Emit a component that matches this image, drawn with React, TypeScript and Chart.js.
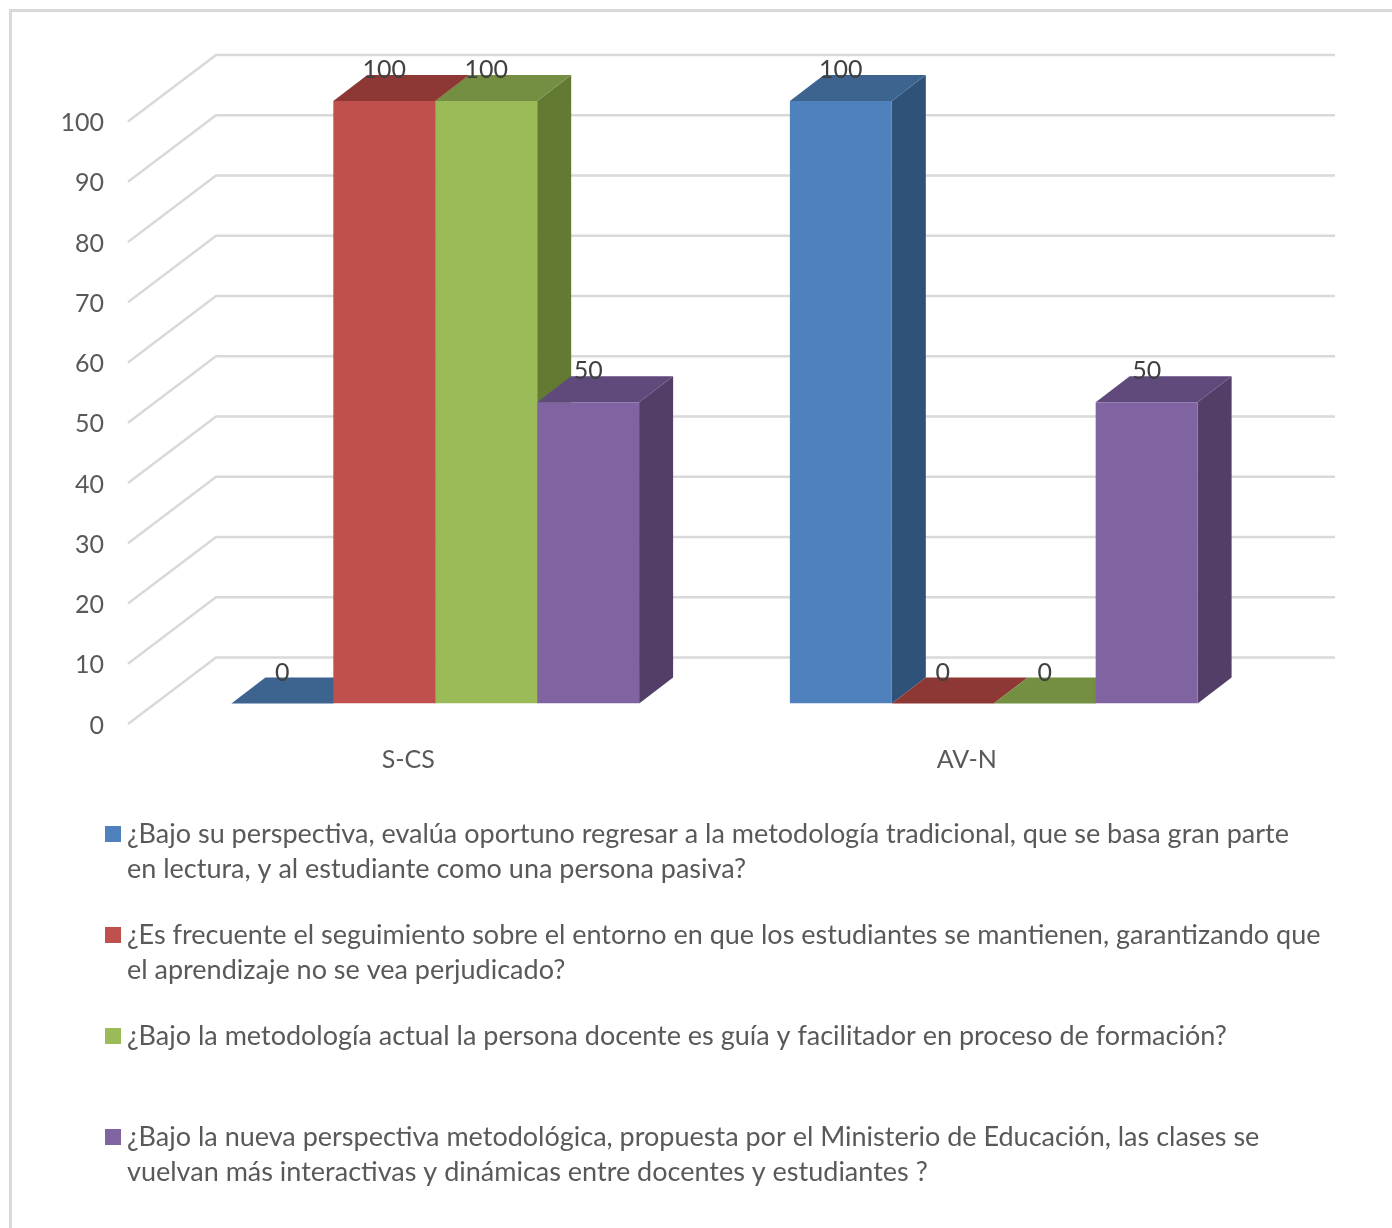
import React, { useEffect, useRef } from "react";
import { Chart, registerables } from "chart.js";

Chart.register(...registerables);

const categories = ["S-CS", "AV-N"];
const question1 = [0, 100];
const question2 = [100, 0];
const question3 = [100, 0];
const question4 = [50, 50];
const legendQ1 = [
  "¿Bajo su perspectiva, evalúa oportuno regresar a la metodología tradicional, que se basa gran parte",
  "en lectura, y al estudiante como una persona pasiva?",
];
const legendQ2 = [
  "¿Es frecuente el seguimiento sobre el entorno en que los estudiantes se mantienen, garantizando que",
  "el aprendizaje no se vea perjudicado?",
];
const legendQ3 = [
  "¿Bajo la metodología actual la persona docente es guía y facilitador en proceso de formación?",
  "",
];
const legendQ4 = [
  "¿Bajo la nueva perspectiva metodológica, propuesta por el Ministerio de Educación, las clases se",
  "vuelvan más interactivas y dinámicas entre docentes y estudiantes ?",
];
const frontColors = ["#4f81bd", "#c0504d", "#9bbb59", "#8064a2"];
const topColors = ["#3d638f", "#8e3835", "#758f42", "#604a7b"];
const sideColors = ["#2f5279", "#7a2f2c", "#637a33", "#523e66"];

const FONT = "Lato, 'Open Sans', sans-serif";
const TEXT = "#595959";
const DEPTH_X = 34;
const DEPTH_Y = 26;

function poly(ctx: CanvasRenderingContext2D, pts: number[][], fill: string) {
  ctx.fillStyle = fill;
  ctx.beginPath();
  pts.forEach(([x, y], i) => (i ? ctx.lineTo(x, y) : ctx.moveTo(x, y)));
  ctx.closePath();
  ctx.fill();
}

const threeD = {
  id: "threeD",
  afterLayout(chart: any) {
    // labels and legend lines reach past their layout boxes: widen the boxes used to clip them
    chart.scales.x.bottom = chart.scales.x.top + 90;
    chart.legend.right = chart.width;
    chart.legend.bottom = chart.height;
  },
  beforeDatasetsDraw(chart: any) {
    const { ctx, scales, chartArea } = chart;
    const y = scales.y;
    ctx.save();
    ctx.strokeStyle = "#d9d9d9";
    ctx.lineWidth = 2.5;
    ctx.lineJoin = "round";
    y.ticks.forEach((t: any) => {
      const p = y.getPixelForValue(t.value);
      ctx.beginPath();
      ctx.moveTo(chartArea.left - 28, p + 20.5);
      ctx.lineTo(chartArea.left + 60, p - 46);
      ctx.lineTo(chartArea.right + 62, p - 46);
      ctx.stroke();
    });
    chart.data.datasets.forEach((_: any, d: number) => {
      chart.getDatasetMeta(d).data.forEach((bar: any) => {
        const { x, y: top, base, width } = bar.getProps(["x", "y", "base", "width"], true);
        const l = x - width / 2;
        const r = x + width / 2;
        if (base - top > 0.5) {
          poly(ctx, [[r, top], [r + DEPTH_X, top - DEPTH_Y], [r + DEPTH_X, base - DEPTH_Y], [r, base]], sideColors[d]);
        }
        poly(ctx, [[l, top], [r, top], [r + DEPTH_X, top - DEPTH_Y], [l + DEPTH_X, top - DEPTH_Y]], topColors[d]);
      });
    });
    ctx.restore();
  },
  afterDatasetsDraw(chart: any) {
    const { ctx } = chart;
    ctx.save();
    ctx.font = `25px ${FONT}`;
    ctx.fillStyle = "#404040";
    ctx.textAlign = "center";
    ctx.textBaseline = "middle";
    chart.data.datasets.forEach((ds: any, d: number) => {
      chart.getDatasetMeta(d).data.forEach((bar: any, i: number) => {
        ctx.fillText(String(ds.data[i]), bar.x, bar.y - 31);
      });
    });
    ctx.restore();
  },
};

function swatch(color: string) {
  const c = document.createElement("canvas");
  c.width = 16;
  c.height = 16;
  const g = c.getContext("2d")!;
  g.fillStyle = color;
  g.fillRect(0, 0, 16, 16);
  return c;
}

export default function App() {
  const ref = useRef<HTMLCanvasElement>(null);
  useEffect(() => {
    const legends = [legendQ1, legendQ2, legendQ3, legendQ4];
    const series = [question1, question2, question3, question4];
    const chart = new Chart(ref.current!, {
      type: "bar",
      plugins: [threeD],
      data: {
        labels: categories,
        datasets: series.map((data, i) => ({
          label: legends[i].join(" "),
          data,
          backgroundColor: frontColors[i],
          borderWidth: 0,
          categoryPercentage: 0.73,
          barPercentage: 1,
        })),
      },
      options: {
        animation: false,
        responsive: false,
        layout: { padding: { left: 38.5, right: 119, top: 101, bottom: 67.5 } },
        scales: {
          x: {
            grid: { display: false },
            border: { display: false },
            afterFit: (s: any) => { s.height = 43; },
            ticks: {
              color: TEXT,
              font: { family: FONT, size: 25 },
              padding: 33,
              labelOffset: -27,
              maxRotation: 0,
              autoSkip: false,
            },
          },
          y: {
            min: 0,
            max: 100,
            grid: { display: false, drawTicks: false },
            border: { display: false },
            afterFit: (s: any) => { s.width = 117.5; },
            ticks: {
              stepSize: 10,
              color: TEXT,
              font: { family: FONT, size: 25 },
              padding: 52,
              labelOffset: 22,
            },
          },
        },
        plugins: {
          tooltip: { enabled: false },
          legend: {
            position: "bottom",
            align: "start",
            labels: {
              color: TEXT,
              font: { family: FONT, size: 27, lineHeight: 35.5 / 27 },
              padding: 74,
              usePointStyle: true,
              pointStyleWidth: 1,
              boxHeight: 16,
              generateLabels: () =>
                legends.map((text, i) => ({
                  text,
                  fontColor: TEXT,
                  fillStyle: frontColors[i],
                  strokeStyle: frontColors[i],
                  lineWidth: 0,
                  pointStyle: swatch(frontColors[i]),
                  datasetIndex: i,
                  hidden: false,
                })),
            },
          },
        },
      } as any,
    } as any);
    return () => chart.destroy();
  }, []);
  return (
    <div style={{ position: "absolute", left: 0, top: 0, width: 1392, height: 1228, overflow: "hidden", background: "#fff" }}>
      <div style={{ position: "absolute", left: 9, top: 9, width: 1400, height: 1400, border: "3px solid #d9d9d9" }} />
      <canvas ref={ref} width={1392} height={1228} style={{ position: "absolute", left: 0, top: 0 }} />
    </div>
  );
}
